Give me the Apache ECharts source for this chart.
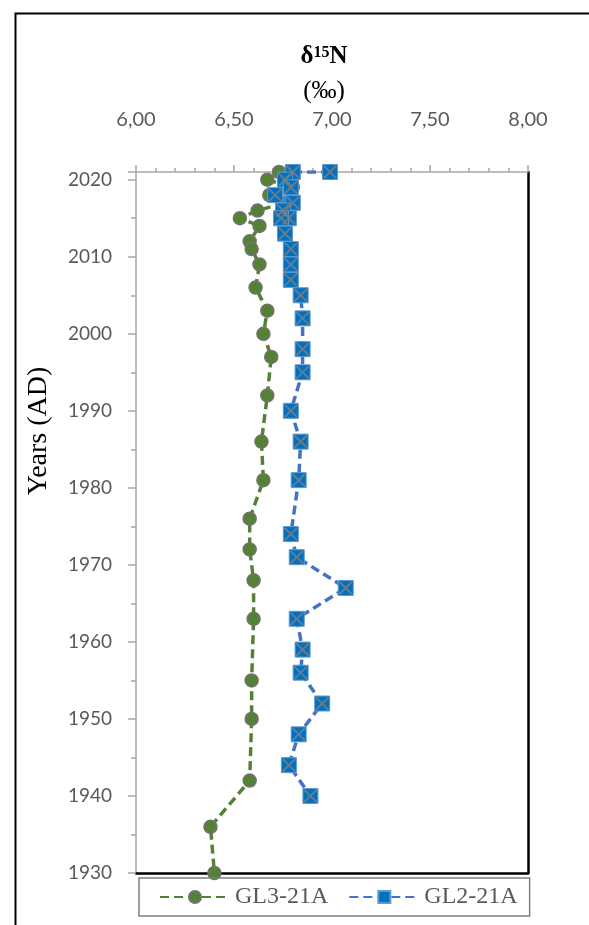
<!DOCTYPE html>
<html>
<head>
<meta charset="utf-8">
<script src="https://cdn.jsdelivr.net/npm/echarts@6/dist/echarts.min.js"></script>
<style>html,body{margin:0;padding:0;background:#fff;}#c{width:589px;height:925px;}</style>
</head>
<body>
<div id="c"></div>
<script>
// GL3-21A (green circles)
var gl3Years = [2021, 2020, 2019, 2018, 2017, 2016, 2015, 2014, 2012, 2011, 2009, 2006, 2003, 2000, 1997, 1992, 1986, 1981, 1976, 1972, 1968, 1963, 1955, 1950, 1942, 1936, 1930];
var gl3Values = [6.73, 6.67, 6.80, 6.68, 6.76, 6.62, 6.53, 6.63, 6.58, 6.59, 6.63, 6.61, 6.67, 6.65, 6.69, 6.67, 6.64, 6.65, 6.58, 6.58, 6.60, 6.60, 6.59, 6.59, 6.58, 6.38, 6.40];
// GL2-21A (blue squares)
var gl2Years = [2021, 2021, 2020, 2019, 2018, 2017, 2016, 2015, 2015, 2013, 2011, 2009, 2007, 2005, 2002, 1998, 1995, 1990, 1986, 1981, 1974, 1971, 1967, 1963, 1959, 1956, 1952, 1948, 1944, 1940];
var gl2Values = [6.99, 6.80, 6.76, 6.79, 6.71, 6.80, 6.75, 6.78, 6.74, 6.76, 6.79, 6.79, 6.79, 6.84, 6.85, 6.85, 6.85, 6.79, 6.84, 6.83, 6.79, 6.82, 7.07, 6.82, 6.85, 6.84, 6.95, 6.83, 6.78, 6.89];
var xTicks = [6.0, 6.5, 7.0, 7.5, 8.0];
var yTicks = [1930, 1940, 1950, 1960, 1970, 1980, 1990, 2000, 2010, 2020];

function pairs(xs, ys) { return xs.map(function (v, i) { return [v, ys[i]]; }); }
var gl3Data = pairs(gl3Values, gl3Years);
var gl2Data = pairs(gl2Values, gl2Years);

var labelColor = '#595959';
var axisGray = '#a6a6a6';
var xPath = 'path://M0,0.1 L0.1,0 L0.5,0.4 L0.9,0 L1,0.1 L0.6,0.5 L1,0.9 L0.9,1 L0.5,0.6 L0.1,1 L0,0.9 L0.4,0.5 Z';

var chart = echarts.init(document.getElementById('c'), null, {renderer: 'canvas'});
chart.setOption({
  animation: false,
  backgroundColor: '#fff',
  grid: {left: 136, right: 61, top: 172, bottom: 52, containLabel: false},
  xAxis: [{
    type: 'value', position: 'top', min: xTicks[0], max: xTicks[xTicks.length - 1], interval: 0.5,
    axisLine: {show: true, lineStyle: {color: axisGray, width: 1.5}},
    axisTick: {show: true, inside: false, length: 7, lineStyle: {color: axisGray, width: 1.5}},
    minorTick: {show: true, splitNumber: 5, length: 4, lineStyle: {color: axisGray, width: 1.5}},
    splitLine: {show: false},
    axisLabel: {margin: 42, color: labelColor, fontFamily: 'Lato', fontSize: 20,
      formatter: function (v) { return v.toFixed(2).replace('.', ','); }}
  }, {
    type: 'value', position: 'bottom', min: 6, max: 8,
    axisLine: {show: true, lineStyle: {color: '#000', width: 2.5}},
    axisTick: {show: false}, axisLabel: {show: false}, splitLine: {show: false}
  }],
  yAxis: [{
    type: 'value', position: 'left', min: yTicks[0], max: 2021, interval: 10,
    axisLine: {show: true, lineStyle: {color: axisGray, width: 1.5}},
    axisTick: {show: true, length: 8, lineStyle: {color: axisGray, width: 1.5}},
    minorTick: {show: true, splitNumber: 2, length: 5, lineStyle: {color: axisGray, width: 1.5}},
    splitLine: {show: false},
    axisLabel: {margin: 24, color: labelColor, fontFamily: 'Lato', fontSize: 19, showMaxLabel: false,
      formatter: function (v) { return (v % 10 === 0) ? String(v) : ''; }}
  }, {
    type: 'value', position: 'right', min: 1930, max: 2021,
    axisLine: {show: true, lineStyle: {color: '#000', width: 2.5}},
    axisTick: {show: false}, axisLabel: {show: false}, splitLine: {show: false}
  }],
  legend: {
    data: ['GL3-21A', 'GL2-21A'],
    left: 139, top: 878,
    orient: 'horizontal',
    itemWidth: 70, itemHeight: 15, itemGap: 20,
    padding: [7, 12, 7, 20],
    borderColor: '#7f7f7f', borderWidth: 1.5,
    textStyle: {fontFamily: 'Liberation Serif', fontSize: 24, color: labelColor}
  },
  graphic: [
    {type: 'rect', left: 13, top: 11, shape: {width: 700, height: 1000}, style: {fill: 'none', stroke: '#000', lineWidth: 2}, z: -1, silent: true},
    {type: 'text', x: 324, y: 57, style: {
      text: '{a|δ}{s|15}{a|N}', align: 'center', verticalAlign: 'middle',
      rich: {
        a: {fontFamily: 'Liberation Serif', fontWeight: 'bold', fontSize: 25, fill: '#000', verticalAlign: 'bottom'},
        s: {fontFamily: 'Liberation Serif', fontWeight: 'bold', fontSize: 16, fill: '#000', verticalAlign: 'top', padding: [0, 0, 8, 0]}
      }}},
    {type: 'text', x: 324, y: 91, style: {text: '(‰)', align: 'center', verticalAlign: 'middle',
      fontFamily: 'Liberation Serif', fontSize: 25, fill: '#000'}},
    {type: 'text', x: 39, y: 431, rotation: Math.PI / 2, style: {text: 'Years (AD)', align: 'center', verticalAlign: 'middle',
      fontFamily: 'Liberation Serif', fontSize: 28, fill: '#000'}}
  ],
  series: [{
    name: 'GL3-21A', type: 'line', data: gl3Data, xAxisIndex: 0, yAxisIndex: 0,
    symbol: 'circle', symbolSize: 13,
    lineStyle: {color: '#548235', width: 3.5, type: [9, 5]},
    itemStyle: {color: '#548235', borderColor: '#767171', borderWidth: 1.5},
    z: 2
  }, {
    name: 'GL2-21A', type: 'line', data: gl2Data, xAxisIndex: 0, yAxisIndex: 0,
    symbol: 'rect', symbolSize: 15,
    lineStyle: {color: '#4472c4', width: 3.5, type: [9, 5]},
    itemStyle: {color: '#0070c0', borderColor: '#5b9bd5', borderWidth: 1},
    z: 3
  }, {
    name: 'GL2-21A-x', type: 'scatter', data: gl2Data, xAxisIndex: 0, yAxisIndex: 0,
    symbol: xPath, symbolSize: 14, silent: true,
    itemStyle: {color: '#7f7f7f'},
    z: 4
  }]
});
</script>
</body>
</html>
